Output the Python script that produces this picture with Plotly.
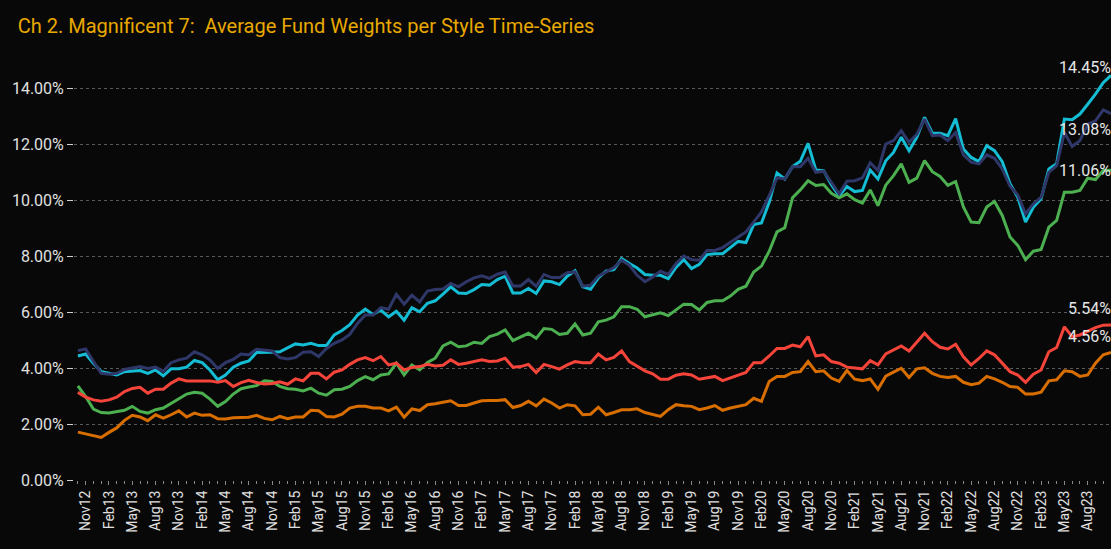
import plotly.graph_objects as go
import pandas as pd

# Monthly observations, Oct-2012 .. Nov-2023
months = list(pd.date_range("2012-10-01", periods=134, freq="MS").strftime("%b%y"))

cyan_vals = [
    4.43, 4.50, 4.17, 3.87, 3.81, 3.75, 3.87, 3.90, 3.91, 3.81, 3.93, 3.72, 3.97, 3.97, 4.03, 4.27, 4.19, 3.93,
    3.58, 3.75, 4.03, 4.17, 4.25, 4.55, 4.55, 4.56, 4.58, 4.73, 4.86, 4.82, 4.88, 4.80, 4.80, 5.18, 5.34, 5.55,
    5.89, 6.10, 5.91, 6.07, 5.83, 6.03, 5.71, 6.15, 6.01, 6.31, 6.40, 6.64, 6.90, 6.68, 6.66, 6.80, 6.98, 6.96,
    7.16, 7.28, 6.68, 6.68, 6.84, 6.66, 7.11, 7.08, 6.98, 7.28, 7.47, 6.90, 6.81, 7.22, 7.46, 7.51, 7.91,
    7.73, 7.57, 7.34, 7.31, 7.31, 7.19, 7.59, 7.87, 7.55, 7.70, 8.05, 8.08, 8.08, 8.29, 8.52, 8.48, 9.12, 9.18,
    9.92, 10.96, 10.75, 11.19, 11.38, 12.02, 11.07, 11.05, 10.55, 10.15, 10.48, 10.30, 10.34, 11.07, 10.75,
    11.40,
    11.70, 12.24, 11.76, 12.24, 12.95, 12.39, 12.38, 12.30, 12.91, 11.82, 11.52, 11.37, 11.94, 11.76, 11.37,
    10.58, 10.10, 9.21, 9.74, 10.04, 11.11, 11.29, 12.89, 12.87, 13.07, 13.42, 13.78, 14.19, 14.45,
]
navy_vals = [
    4.62, 4.68, 4.23, 3.81, 3.78, 3.81, 3.95, 4.01, 4.05, 3.98, 4.03, 3.88, 4.19, 4.29, 4.35, 4.58, 4.47, 4.29,
    3.98, 4.19, 4.31, 4.50, 4.47, 4.67, 4.64, 4.61, 4.37, 4.32, 4.37, 4.56, 4.58, 4.41, 4.70, 4.88, 5.00, 5.20,
    5.59, 5.89, 5.89, 6.16, 6.10, 6.63, 6.28, 6.60, 6.36, 6.75, 6.80, 6.82, 7.02, 6.90, 7.08, 7.22, 7.29, 7.20,
    7.35, 7.43, 6.93, 6.93, 7.16, 6.92, 7.34, 7.23, 7.23, 7.40, 7.43, 6.92, 6.96, 7.28, 7.43, 7.59, 7.85,
    7.67, 7.31, 7.08, 7.25, 7.46, 7.34, 7.73, 8.00, 7.87, 7.85, 8.20, 8.20, 8.30, 8.49, 8.68, 8.86, 9.21, 9.57,
    10.16, 10.79, 10.75, 11.19, 11.19, 11.49, 10.99, 11.03, 10.63, 10.22, 10.67, 10.69, 10.79, 11.33, 11.05,
    12.00,
    12.12, 12.47, 12.06, 12.35, 12.89, 12.30, 12.32, 12.12, 12.41, 11.61, 11.35, 11.29, 11.61, 11.49, 11.11,
    10.49, 10.18, 9.51, 9.86, 10.10, 10.99, 11.23, 12.41, 11.91, 12.12, 12.71, 12.83, 13.22, 13.08,
]
green_vals = [
    3.36, 2.98, 2.53, 2.41, 2.39, 2.43, 2.49, 2.63, 2.45, 2.39, 2.51, 2.57, 2.75, 2.90, 3.07, 3.13, 3.10, 2.89,
    2.63, 2.80, 3.07, 3.26, 3.32, 3.37, 3.54, 3.52, 3.34, 3.26, 3.24, 3.18, 3.28, 3.10, 3.03, 3.22, 3.24, 3.34,
    3.55, 3.69, 3.58, 3.75, 3.79, 4.17, 3.75, 4.11, 3.93, 4.20, 4.35, 4.79, 4.92, 4.76, 4.79, 4.92, 4.88, 5.12,
    5.21, 5.36, 4.98, 5.12, 5.24, 5.06, 5.41, 5.38, 5.20, 5.24, 5.57, 5.18, 5.24, 5.65, 5.71, 5.83, 6.19,
    6.19, 6.10, 5.83, 5.89, 5.97, 5.87, 6.09, 6.28, 6.27, 6.07, 6.34, 6.40, 6.40, 6.57, 6.81, 6.92, 7.43, 7.64,
    8.17, 8.86, 9.01, 10.08, 10.36, 10.69, 10.52, 10.55, 10.24, 10.08, 10.22, 10.01, 9.89, 10.36, 9.80,
    10.53,
    10.87, 11.29, 10.63, 10.78, 11.41, 11.01, 10.84, 10.52, 10.66, 9.75, 9.21, 9.19, 9.75, 9.95, 9.45,
    8.68, 8.38, 7.87, 8.17, 8.23, 9.03, 9.27, 10.28, 10.28, 10.34, 10.78, 10.73, 11.05, 11.06,
]
red_vals = [
    3.13, 2.96, 2.86, 2.81, 2.86, 2.96, 3.16, 3.27, 3.31, 3.10, 3.24, 3.24, 3.46, 3.61, 3.54, 3.54, 3.52, 3.54,
    3.49, 3.55, 3.34, 3.48, 3.56, 3.48, 3.43, 3.45, 3.51, 3.42, 3.61, 3.54, 3.81, 3.81, 3.61, 3.85, 3.93, 4.13,
    4.29, 4.37, 4.26, 4.41, 4.11, 4.17, 3.93, 4.02, 4.05, 4.13, 4.07, 4.10, 4.29, 4.13, 4.17, 4.23, 4.29, 4.23,
    4.25, 4.35, 4.03, 4.05, 4.13, 3.84, 4.13, 4.05, 3.96, 4.11, 4.23, 4.19, 4.19, 4.50, 4.29, 4.38, 4.61,
    4.23, 4.05, 3.90, 3.79, 3.60, 3.60, 3.74, 3.79, 3.75, 3.60, 3.64, 3.70, 3.55, 3.64, 3.75, 3.84, 4.19, 4.19,
    4.43, 4.70, 4.70, 4.82, 4.76, 5.12, 4.43, 4.47, 4.23, 4.17, 4.03, 3.99, 3.97, 4.26, 4.11,
    4.50,
    4.64, 4.79, 4.61, 4.94, 5.24, 4.94, 4.74, 4.68, 4.85, 4.40, 4.11, 4.34, 4.61, 4.47, 4.17,
    3.87, 3.75, 3.49, 3.78, 3.93, 4.58, 4.73, 5.47, 5.12, 5.18, 5.30, 5.44, 5.53, 5.54,
]
orange_vals = [
    1.71, 1.65, 1.59, 1.52, 1.70, 1.86, 2.13, 2.31, 2.25, 2.12, 2.33, 2.21, 2.33, 2.47, 2.25, 2.39, 2.31, 2.33,
    2.19, 2.18, 2.22, 2.22, 2.24, 2.31, 2.20, 2.15, 2.27, 2.19, 2.25, 2.25, 2.49, 2.47, 2.27, 2.25, 2.35, 2.57,
    2.63, 2.63, 2.57, 2.57, 2.47, 2.60, 2.24, 2.54, 2.48, 2.69, 2.72, 2.78, 2.83, 2.66, 2.66, 2.75, 2.83, 2.84,
    2.84, 2.87, 2.59, 2.66, 2.81, 2.65, 2.89, 2.75, 2.57, 2.69, 2.65, 2.33, 2.35, 2.60, 2.33, 2.41, 2.51,
    2.51, 2.54, 2.41, 2.33, 2.27, 2.51, 2.69, 2.65, 2.63, 2.51, 2.57, 2.66, 2.49, 2.57, 2.63, 2.69, 2.92, 2.81,
    3.52, 3.70, 3.70, 3.84, 3.87, 4.23, 3.87, 3.90, 3.64, 3.52, 3.91, 3.60, 3.55, 3.61, 3.24,
    3.71,
    3.85, 3.99, 3.66, 3.97, 4.01, 3.81, 3.70, 3.66, 3.70, 3.49, 3.40, 3.46, 3.70, 3.61, 3.49,
    3.34, 3.31, 3.07, 3.07, 3.14, 3.54, 3.58, 3.90, 3.87, 3.70, 3.75, 4.17, 4.47, 4.56,
]

series = [
    ("Series A", cyan_vals, "#14BCD4", 8),
    ("Series B", navy_vals, "#2E3768", -16),
    ("Series C", green_vals, "#4CAF50", 0),
    ("Series D", red_vals, "#F5443A", 16),
    ("Series E", orange_vals, "#D96E00", 16),
]

x_idx = list(range(len(months)))
tick_idx = x_idx[1::3]
tick_txt = [months[i] for i in tick_idx]

FONT = "Roboto, 'Noto Sans', sans-serif"

fig = go.Figure()
for name, vals, color, _ in series:
    fig.add_trace(go.Scatter(
        x=x_idx, y=vals, mode="lines", name=name,
        line=dict(color=color, width=3), showlegend=False,
        hoverinfo="skip",
    ))

for name, vals, color, yshift in series:
    fig.add_annotation(
        x=x_idx[-1], y=vals[-1], text=f"{vals[-1]:.2f}%",
        showarrow=False, xanchor="right", yanchor="middle",
        xshift=2, yshift=yshift,
        font=dict(family=FONT, size=16, color="#E6E6E6"),
    )

fig.update_layout(
    width=1111, height=549,
    paper_bgcolor="#080808", plot_bgcolor="#080808",
    margin=dict(l=74, r=0, t=60, b=69),
    title=dict(
        text="Ch 2. Magnificent 7:  Average Fund Weights per Style Time-Series",
        x=0.016, xanchor="left", y=0.952, yanchor="middle",
        font=dict(family=FONT, size=20, color="#E8A800"),
    ),
    font=dict(family=FONT, color="#E0E0E0"),
)

fig.update_xaxes(
    range=[-0.5, 133.0],
    tickmode="array", tickvals=tick_idx, ticktext=tick_txt,
    tickangle=-90, tickfont=dict(size=14, color="#E0E0E0"),
    showgrid=False, zeroline=False, showline=False,
    ticks="outside", ticklen=4, tickcolor="#888888",
    minor=dict(ticks="outside", ticklen=3, tickcolor="#888888", dtick=1, showgrid=False),
)
fig.update_yaxes(
    range=[0, 15],
    tickmode="array", tickvals=[0, 2, 4, 6, 8, 10, 12, 14],
    ticktext=["0.00%", "2.00%", "4.00%", "6.00%", "8.00%", "10.00%", "12.00%", "14.00%"],
    tickfont=dict(size=16, color="#E0E0E0"),
    showgrid=True, gridcolor="#5A5A5A", griddash="dot", gridwidth=1,
    zeroline=False, showline=False,
    ticks="outside", ticklen=6, tickcolor="#D0D0D0",
)

fig.write_html("out.html", config={"displayModeBar": False})

# remove default page margin so the figure sits at the window's top-left corner
with open("out.html", "r", encoding="utf-8") as f:
    html = f.read()
html = html.replace("<head>", "<head><style>html,body{margin:0;padding:0;background:#080808;overflow:hidden;}</style>", 1)
with open("out.html", "w", encoding="utf-8") as f:
    f.write(html)
